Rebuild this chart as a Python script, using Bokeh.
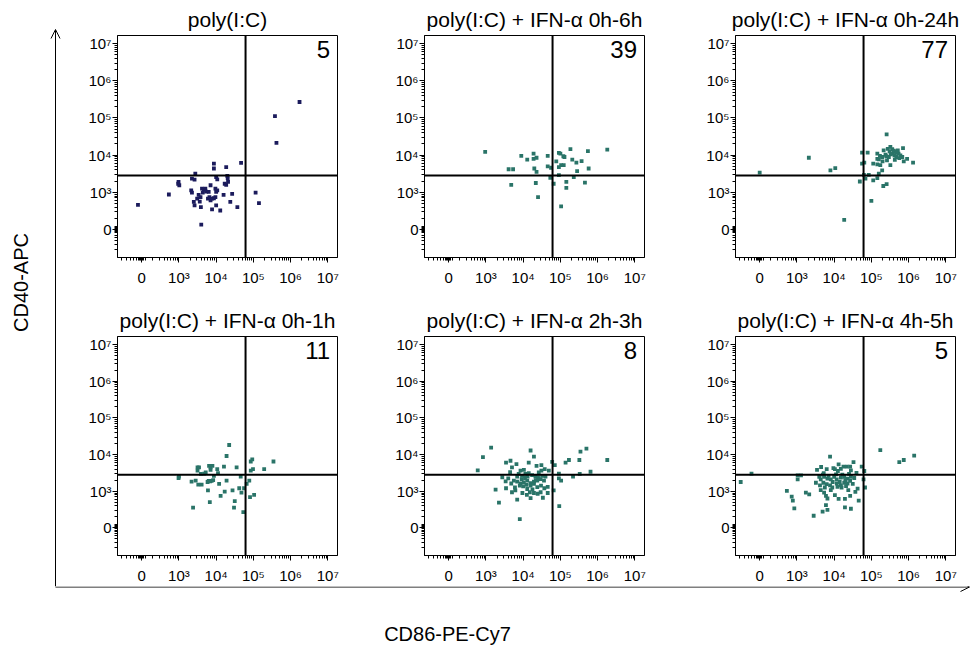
import math
from bokeh.plotting import figure
from bokeh.layouts import row, column
from bokeh.models import Range1d, FixedTicker, Span, Label, Arrow, OpenHead, ColumnDataSource
from bokeh.embed import file_html
from bokeh.resources import INLINE

FONT = "Liberation Sans"

# ---------------- data (log10 fluorescence; "0" shown at position 2) ----------------
titles = ["poly(I:C)", "poly(I:C) + IFN-\u03b1 0h-6h", "poly(I:C) + IFN-\u03b1 0h-24h",
          "poly(I:C) + IFN-\u03b1 0h-1h", "poly(I:C) + IFN-\u03b1 2h-3h", "poly(I:C) + IFN-\u03b1 4h-5h"]
counts = ["5", "39", "77", "11", "8", "5"]

tick_pos = [2, 3, 4, 5, 6, 7]
tick_labels = ["0", "10\u00b3", "10\u2074", "10\u2075", "10\u2076", "10\u2077"]

x_title = "CD86-PE-Cy7"
y_title = "CD40-APC"

gate_x = 4.79
gate_y = 3.45

p1_x = [1.90, 2.73, 2.99, 3.01, 2.98, 3.35, 3.42, 3.44, 3.33, 3.35, 3.40, 3.42, 3.49, 3.53, 3.58,
        3.56, 3.62, 3.67, 3.71, 3.73, 3.64, 3.80, 3.85, 3.59, 3.78, 3.82, 3.85, 3.89, 3.94, 3.98,
        3.89, 4.00, 4.11, 3.94, 3.94, 4.00, 4.03, 3.98, 4.03, 4.00, 4.23, 4.27, 4.32, 4.30, 4.27,
        4.31, 4.20, 4.43, 4.38, 4.57, 4.67, 5.06, 5.15, 3.60, 5.58, 5.62, 6.24]
p1_y = [2.66, 2.94, 3.28, 3.19, 3.23, 3.37, 3.34, 3.50, 3.05, 2.99, 2.74, 2.65, 2.83, 2.93, 2.87,
        2.75, 3.10, 3.07, 3.10, 3.02, 2.99, 3.01, 3.19, 2.60, 2.83, 2.87, 2.78, 2.83, 2.84, 2.87,
        2.54, 2.65, 2.51, 3.77, 3.64, 3.41, 3.35, 3.10, 3.05, 3.01, 3.23, 3.20, 3.28, 3.44, 3.68,
        3.38, 2.93, 2.96, 2.74, 2.60, 3.79, 2.99, 2.71, 2.13, 5.05, 4.33, 5.43]

p2_x = [2.98, 3.61, 3.73, 3.68, 3.95, 4.11, 4.28, 4.28, 4.36, 4.30, 4.36, 4.34, 4.40, 4.66, 4.66,
        4.75, 4.73, 4.82, 4.89, 4.96, 5.00, 4.96, 5.02, 4.96, 5.02, 5.08, 5.11, 5.09, 5.16, 5.16,
        5.27, 5.32, 5.36, 5.43, 5.45, 5.57, 5.66, 5.74, 5.76, 6.26]
p2_y = [4.09, 3.62, 3.62, 3.20, 3.98, 3.88, 4.04, 3.90, 3.93, 3.64, 3.55, 3.25, 2.87, 3.98, 3.70,
        3.66, 3.39, 3.23, 3.83, 4.06, 4.04, 3.68, 3.73, 3.46, 2.62, 3.97, 3.95, 3.73, 3.28, 3.12,
        4.16, 3.88, 3.41, 3.80, 3.57, 3.84, 3.26, 4.11, 3.64, 4.15]

p3_x = [5.41, 4.75, 4.90, 4.75, 4.81, 5.16, 5.16, 5.23, 5.20, 5.29, 5.33, 5.38, 5.42, 5.44, 5.51,
        5.49, 5.56, 5.58, 5.62, 5.65, 5.67, 5.71, 5.73, 5.78, 5.85, 5.83, 5.87, 5.96, 6.12, 5.05,
        5.16, 5.24, 5.29, 5.51, 5.20, 4.93, 4.84, 4.69, 5.05, 5.16, 5.32, 5.41, 5.00, 4.80, 2.00,
        3.32, 3.90, 4.03, 4.27, 5.60, 5.68, 5.52, 5.47, 5.75, 5.40, 5.30, 5.63]
p3_y = [4.56, 4.07, 4.07, 3.77, 3.80, 4.04, 3.90, 3.98, 3.89, 3.95, 4.13, 4.01, 3.86, 4.17, 4.22,
        4.10, 4.16, 4.04, 3.99, 4.10, 3.95, 4.13, 4.04, 3.99, 4.19, 3.95, 3.83, 3.90, 3.80, 3.77,
        3.75, 3.73, 3.59, 3.73, 3.50, 3.47, 3.37, 3.29, 3.32, 3.38, 3.17, 3.22, 2.77, 3.47, 3.53,
        3.93, 3.59, 3.65, 2.26, 4.12, 4.06, 4.02, 3.95, 3.92, 3.97, 3.83, 3.87]

p4_x = [2.99, 3.00, 3.34, 3.45, 3.50, 3.50, 3.54, 3.59, 3.52, 3.61, 3.38, 3.68, 3.72, 3.77, 3.78,
        3.81, 3.85, 3.85, 3.90, 3.80, 3.84, 3.88, 3.92, 3.83, 3.94, 4.03, 4.05, 4.08, 4.12, 4.21,
        4.23, 4.28, 4.28, 4.35, 4.44, 4.48, 4.50, 4.55, 4.62, 4.66, 4.68, 4.73, 4.75, 4.82, 4.89,
        4.91, 4.93, 4.97, 4.93, 4.99, 5.02, 5.29, 5.54]
p4_y = [3.36, 3.40, 3.26, 3.29, 3.65, 3.56, 3.65, 3.47, 3.18, 3.18, 2.55, 3.48, 3.51, 3.25, 3.02,
        3.69, 3.65, 3.58, 3.69, 3.28, 3.27, 3.28, 3.30, 2.70, 3.42, 3.60, 3.49, 3.20, 2.87, 3.67,
        2.99, 3.29, 3.96, 4.26, 3.02, 2.55, 2.73, 3.65, 3.08, 3.40, 2.96, 2.43, 3.08, 3.20, 3.29,
        2.84, 3.81, 3.87, 3.56, 3.60, 2.90, 3.60, 3.81]

p5_x = [3.14, 2.92, 2.78, 3.54, 3.66, 3.82, 3.70, 3.93, 4.02, 4.15, 4.20, 4.29, 4.36, 4.49, 4.49,
        4.69, 4.78, 4.85, 3.44, 3.53, 3.68, 3.84,
        3.88, 3.97, 4.06, 4.15, 4.24, 4.33, 4.42, 4.51, 4.60,
        3.75, 3.84, 3.93, 4.02, 4.11, 4.20, 4.29, 4.38, 4.47, 4.56,
        3.91, 4.00, 4.09, 4.20, 4.29, 4.38, 4.48, 4.57, 4.66,
        3.26, 3.54, 3.70, 3.79, 4.11, 4.18, 4.20, 4.29, 4.39, 4.47, 4.53, 4.66, 4.82, 3.84, 3.35,
        3.91, 4.97,
        4.96, 4.96, 5.02, 5.34, 5.52, 5.14, 5.23, 5.51, 5.54, 5.70, 5.81, 6.26,
        3.60, 3.78, 4.05, 4.25, 4.40, 4.12, 3.96, 4.34, 3.65, 4.58, 4.10, 3.98]
p5_y = [4.19, 3.93, 3.57, 3.78, 3.83, 3.74, 3.65, 3.56, 3.58, 3.78, 4.11, 3.94, 3.69, 3.71, 3.56,
        3.56, 3.80, 3.71, 3.38, 3.27, 3.21, 3.40,
        3.47, 3.42, 3.47, 3.49, 3.44, 3.40, 3.51, 3.42, 3.40,
        3.29, 3.26, 3.21, 3.24, 3.29, 3.22, 3.26, 3.29, 3.33, 3.29,
        3.15, 3.13, 3.17, 3.15, 3.20, 3.11, 3.15, 3.08, 3.12,
        3.04, 3.08, 2.97, 3.02, 3.06, 2.97, 2.81, 2.95, 2.93, 2.97, 2.82, 2.95, 3.02, 2.77, 2.69,
        2.24, 2.59,
        3.48, 3.35, 3.29, 3.40, 3.47, 3.78, 3.85, 3.85, 4.08, 4.16, 3.53, 3.85,
        3.35, 3.10, 3.36, 3.05, 3.38, 3.40, 3.33, 3.30, 3.52, 3.60, 2.90, 2.95]

p6_x = [5.24, 5.75, 5.87, 6.15, 3.89, 1.49, 1.78, 3.02, 3.11, 3.02, 2.73, 2.86, 2.89, 2.93, 3.24,
        3.33, 3.45, 3.69, 3.82, 3.78, 3.54, 3.65, 3.80, 3.72, 3.98, 4.12, 4.02, 4.18, 4.25, 4.34,
        4.43, 4.52, 4.45, 4.74, 4.81,
        3.60, 3.64, 3.73, 3.82, 3.91, 4.00, 4.07, 4.18, 4.27, 4.36, 4.45, 4.54,
        3.51, 3.62, 3.71, 3.80, 3.89, 3.96, 4.07, 4.18, 4.27, 4.36, 4.43,
        3.64, 3.73, 3.78, 3.82, 3.91, 4.02, 4.09, 4.20, 4.32, 4.38, 4.43, 4.57, 4.63, 4.66, 4.29,
        4.12, 4.29, 4.45, 4.83, 4.79,
        3.70, 3.85, 4.05, 4.22, 4.40, 3.95, 4.15, 4.30, 3.75, 4.50, 4.10, 4.60]
p6_y = [4.12, 3.79, 3.85, 3.97, 3.94, 3.25, 3.48, 3.43, 3.43, 3.32, 3.01, 2.85, 2.74, 2.53, 2.96,
        2.91, 2.33, 2.44, 2.49, 2.62, 3.58, 3.66, 3.60, 3.49, 3.63, 3.73, 3.60, 3.61, 3.67, 3.67,
        3.67, 3.79, 3.57, 3.67, 3.55,
        3.39, 3.32, 3.39, 3.34, 3.32, 3.39, 3.32, 3.37, 3.39, 3.34, 3.39, 3.36,
        3.23, 3.16, 3.23, 3.19, 3.16, 3.25, 3.21, 3.16, 3.23, 3.21, 3.28,
        3.03, 2.96, 2.87, 2.80, 3.03, 2.89, 3.12, 3.10, 3.14, 3.03, 2.87, 2.98, 3.07, 2.74, 2.79,
        2.79, 2.56, 2.52, 3.10, 3.32,
        3.45, 3.42, 3.46, 3.45, 3.47, 3.10, 3.25, 3.30, 3.10, 3.20, 3.55, 3.50]

panels_x = [p1_x, p2_x, p3_x, p4_x, p5_x, p6_x]
panels_y = [p1_y, p2_y, p3_y, p4_y, p5_y, p6_y]
colors = ["#1b1b5c", "#2a7468", "#2a7468", "#2a7468", "#2a7468", "#2a7468"]

# ---------------- styling / layout (pixel geometry) ----------------
X_RANGE = (1.35, 7.26)
Y_RANGE = (1.245, 7.22)
minor_pos = ([1.45, 1.6, 1.7, 1.78, 1.85, 1.91, 1.94, 1.97, 2.03, 2.06, 2.09,
              2.3, 2.48, 2.6, 2.7, 2.78, 2.85, 2.9, 2.95] +
             [d + math.log10(k) for d in range(3, 7) for k in range(2, 10)])

LEFT_W = 71
col_widths = [307, 311, 285]
col_right = [41, 45, 19]
LEFT_B = 46
FRAME_H = 222
TOP_B = 35
ROW1_BOTTOM = 44
ROW2_BOTTOM = 28
PAGE_W = LEFT_W + sum(col_widths)
GRID_H = 2 * (TOP_B + FRAME_H) + ROW1_BOTTOM + ROW2_BOTTOM
BOTTOM_H = 650 - GRID_H
AXIS_PX = 55


def make_panel(i):
    c = i % 3
    bottom = ROW1_BOTTOM if i < 3 else ROW2_BOTTOM
    p = figure(width=col_widths[c], height=TOP_B + FRAME_H + bottom,
               x_range=Range1d(*X_RANGE), y_range=Range1d(*Y_RANGE),
               output_backend="svg", toolbar_location=None,
               min_border_left=LEFT_B, min_border_right=col_right[c],
               min_border_top=TOP_B, min_border_bottom=bottom)
    p.title.text = titles[i]
    p.title.align = "center"
    p.title.text_font = FONT
    p.title.text_font_size = "21px"
    p.title.text_font_style = "normal"
    p.title.text_color = "black"
    p.title.standoff = 9
    p.grid.visible = False
    p.outline_line_color = "black"
    p.outline_line_width = 1
    for ax in (p.xaxis[0], p.yaxis[0]):
        ax.ticker = FixedTicker(ticks=tick_pos, minor_ticks=minor_pos)
        ax.major_label_overrides = {t: l for t, l in zip(tick_pos, tick_labels)}
        ax.major_label_text_font = FONT
        ax.major_label_text_font_size = "15px"
        ax.major_label_text_color = "black"
        ax.major_tick_out = 5
        ax.major_tick_in = 0
        ax.minor_tick_out = 3
        ax.minor_tick_in = 0
        ax.axis_line_color = "black"
        ax.major_tick_line_color = "black"
        ax.minor_tick_line_color = "black"
    p.xaxis[0].major_label_standoff = 6
    p.yaxis[0].major_label_standoff = 1

    p.add_layout(Span(location=gate_x, dimension="height", line_color="black", line_width=2))
    p.add_layout(Span(location=gate_y, dimension="width", line_color="black", line_width=2))
    src = ColumnDataSource(dict(x=panels_x[i], y=panels_y[i]))
    p.scatter("x", "y", source=src, marker="square", size=3.8,
              fill_color=colors[i], line_color=None)
    p.add_layout(Label(x=X_RANGE[1] - 0.2, y=Y_RANGE[1] - 0.14, text=counts[i],
                       text_align="right", text_baseline="top",
                       text_font=FONT, text_font_size="24px", text_color="black"))
    return p


panels = [make_panel(i) for i in range(6)]
grid = column(row(*panels[:3]), row(*panels[3:]))

# left strip with vertical arrow and y title (page pixel coordinates)
left = figure(width=LEFT_W, height=GRID_H, x_range=Range1d(0, LEFT_W), y_range=Range1d(GRID_H, 0),
              x_axis_type=None, y_axis_type=None, min_border=0, outline_line_color=None,
              toolbar_location=None, output_backend="svg")
left.add_layout(Arrow(end=OpenHead(size=9, line_width=1, line_color="black"),
                      x_start=AXIS_PX, y_start=GRID_H, x_end=AXIS_PX, y_end=29,
                      line_width=1, line_color="black"))
left.add_layout(Label(x=20, y=282, text=y_title, angle=math.pi / 2,
                      text_align="center", text_baseline="middle",
                      text_font=FONT, text_font_size="20px", text_color="black"))

# bottom strip with horizontal arrow and x title
bottom = figure(width=PAGE_W, height=BOTTOM_H, x_range=Range1d(0, PAGE_W),
                y_range=Range1d(650, GRID_H),
                x_axis_type=None, y_axis_type=None, min_border=0, outline_line_color=None,
                toolbar_location=None, output_backend="svg")
bottom.segment(x0=[AXIS_PX], y0=[GRID_H], x1=[AXIS_PX], y1=[GRID_H + 0.5],
               line_color="black", line_width=1)
bottom.add_layout(Arrow(end=OpenHead(size=9, line_width=1, line_color="black"),
                        x_start=AXIS_PX, y_start=GRID_H + 0.5, x_end=969, y_end=GRID_H + 0.5,
                        line_width=1, line_color="black"))
bottom.add_layout(Label(x=447, y=633, text=x_title,
                        text_align="center", text_baseline="middle",
                        text_font=FONT, text_font_size="20px", text_color="black"))

layout = column(row(left, grid), bottom)

open("out.html", "w").write(file_html(layout, INLINE))
